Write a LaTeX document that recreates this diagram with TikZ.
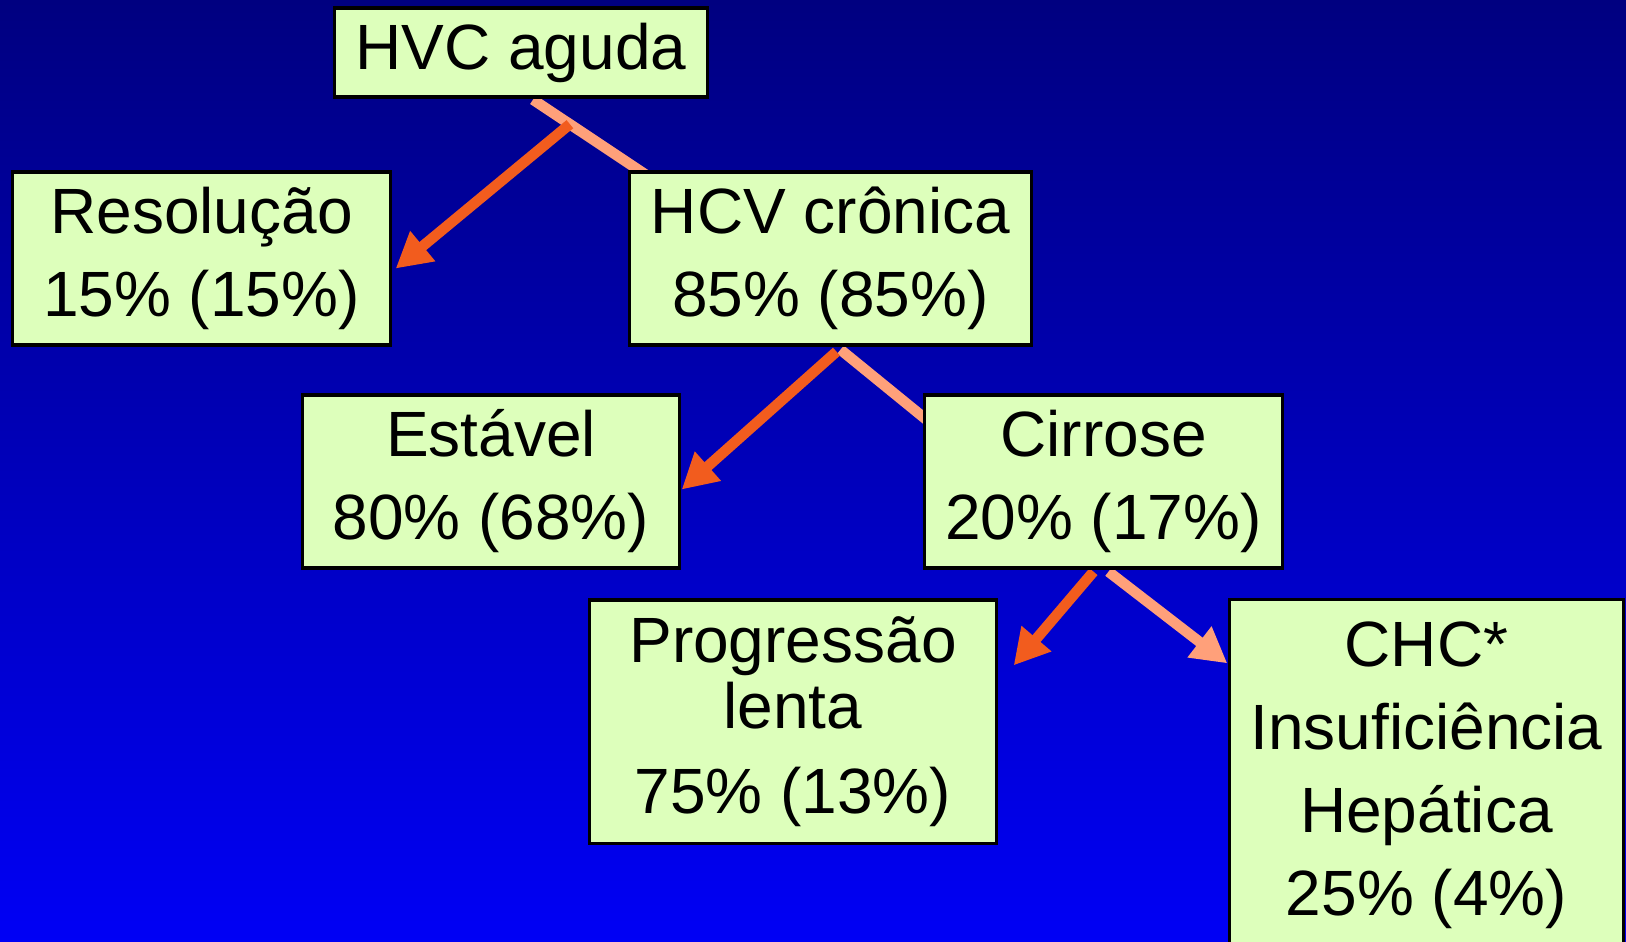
\documentclass[tikz,border=0pt]{standalone}
\usepackage{fontspec}
\setmainfont{Liberation Sans}
\usetikzlibrary{positioning,calc,arrows.meta,backgrounds}
\definecolor{boxgreen}{RGB}{221,255,187}
\definecolor{arrred}{RGB}{242,92,30}
\definecolor{arrpeach}{RGB}{255,160,122}
\definecolor{topblue}{RGB}{0,0,128}
\definecolor{botblue}{RGB}{0,0,245}

\begin{document}
\begin{tikzpicture}[x=0.01cm, y=-0.01cm,
    box/.style={draw=black, line width=0.9pt, fill=boxgreen, inner sep=0pt, align=center,
        font=\fontsize{18.2pt}{23.6pt}\selectfont},
    redarr/.style={draw=arrred, line width=3pt, -{Triangle[length=10pt,width=10.5pt]}},
    peachline/.style={draw=arrpeach, line width=3pt}]
    \clip (0,0) rectangle (1626,941);
    % Background
    \begin{scope}[on background layer]
        \fill[top color=topblue, bottom color=botblue] (0,0) rectangle (1626,941);
    \end{scope}

    % Boxes
    \node[box, minimum width=3.72cm, minimum height=0.89cm] (hvc) at (521,52.5) {HVC aguda};
    \node[box, minimum width=3.77cm, minimum height=1.73cm] (resol) at (201.5,258.5) {Resolução\\15\% (15\%)};
    \node[box, minimum width=4.01cm, minimum height=1.73cm] (hcv) at (830.5,258.5) {HCV crônica\\85\% (85\%)};
    \node[box, minimum width=3.76cm, minimum height=1.73cm] (estavel) at (491,481.5) {Estável\\80\% (68\%)};
    \node[box, minimum width=3.57cm, minimum height=1.73cm] (cirrose) at (1103.5,481.5) {Cirrose\\20\% (17\%)};
    \node[box, minimum width=4.06cm, minimum height=2.43cm] (progr) at (793,721.5) {Progressão\\[-4.8pt]lenta\\[0.6pt]75\% (13\%)};
    \node[box, minimum width=3.93cm, minimum height=3.5cm] (chc) at (1426.5,775) {CHC*\\Insuficiência\\Hepática\\25\% (4\%)};

    % Connectors (behind the boxes)
    \begin{scope}[on background layer]
        \coordinate (p1) at ($(hvc.south)+(12,1)$);
        \coordinate (q1) at ($(hcv.north west)+(20,6)$);
        \draw[peachline] (p1) -- (q1);
        \draw[redarr] ($(p1)!0.32!(q1)$) -- ($(resol.east)+(4,10)$);

        \coordinate (p2) at ($(hcv.south)+(10,3)$);
        \coordinate (q2) at ($(cirrose.north west)+(15,36)$);
        \draw[peachline] (p2) -- (q2);
        \draw[redarr] ($(p2)+(-4,2)$) -- ($(estavel.east)+(1,8)$);

        \coordinate (p3) at ($(cirrose.south)+(5,2)$);
        \draw[redarr] ($(cirrose.south)+(-10,2)$) -- ($(progr.north east)+(16,67)$);
        \draw[peachline, -{Triangle[length=10pt,width=10.5pt]}] (p3) -- ($(chc.north west)+(-1,65)$);
    \end{scope}
\end{tikzpicture}
\end{document}
